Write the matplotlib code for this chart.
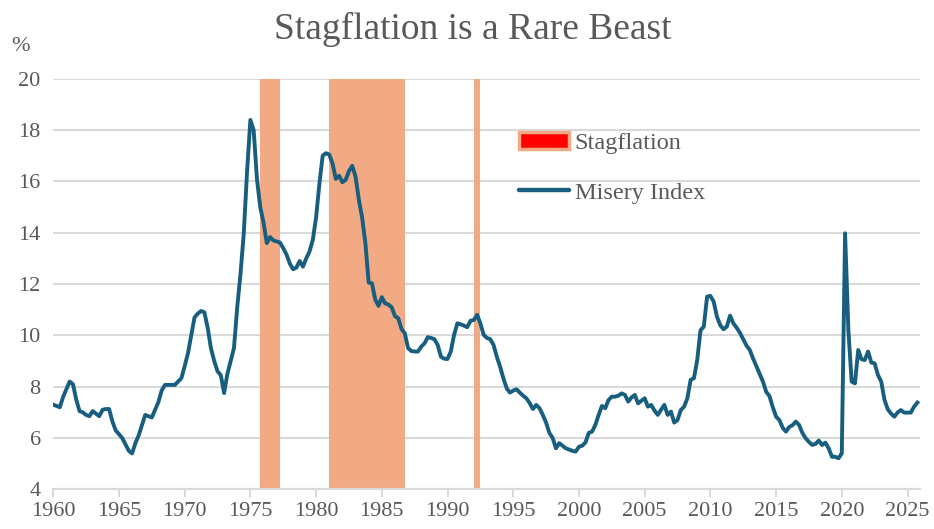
# coding: utf-8
import matplotlib
matplotlib.use("Agg")
import matplotlib.pyplot as plt
import numpy as np
from matplotlib.patches import Patch
from matplotlib.lines import Line2D

# quarterly misery index (inflation + unemployment), 1960Q1 .. 2025Q4
START_YEAR = 1960
misery = [
    7.3, 7.25, 7.2, 7.6,      # 1960
    7.9, 8.2, 8.1, 7.5,       # 1961
    7.05, 7.0, 6.9, 6.85,     # 1962
    7.05, 6.95, 6.85, 7.1,    # 1963
    7.13, 7.13, 6.65, 6.3,    # 1964
    6.15, 6.0, 5.75, 5.5,     # 1965
    5.4, 5.8, 6.1, 6.5,       # 1966
    6.9, 6.85, 6.8, 7.1,      # 1967
    7.4, 7.85, 8.07, 8.07,    # 1968
    8.07, 8.07, 8.2, 8.33,    # 1969
    8.8, 9.3, 10.0, 10.7,     # 1970
    10.85, 10.95, 10.9, 10.3, # 1971
    9.5, 9.0, 8.6, 8.45,      # 1972
    7.75, 8.5, 9.0, 9.5,      # 1973
    11.1, 12.4, 14.0, 16.4,   # 1974
    18.4, 18.0, 16.1, 15.0,   # 1975
    14.4, 13.6, 13.83, 13.7,  # 1976
    13.66, 13.62, 13.4, 13.15,# 1977
    12.8, 12.58, 12.64, 12.9, # 1978
    12.68, 13.0, 13.27, 13.72,# 1979
    14.6, 15.9, 17.0, 17.1,   # 1980
    17.05, 16.7, 16.1, 16.22, # 1981
    15.97, 16.06, 16.4, 16.61,# 1982
    16.19, 15.3, 14.6, 13.6,  # 1983
    12.06, 12.03, 11.4, 11.15,# 1984
    11.49, 11.25, 11.2, 11.1, # 1985
    10.75, 10.67, 10.25, 10.08,  # 1986
    9.5, 9.39, 9.37, 9.37,    # 1987
    9.56, 9.69, 9.93, 9.9,    # 1988
    9.85, 9.63, 9.17, 9.09,   # 1989
    9.08, 9.37, 10.02, 10.47, # 1990
    10.43, 10.38, 10.32, 10.57,  # 1991
    10.6, 10.8, 10.47, 10.02, # 1992
    9.9, 9.85, 9.63, 9.17,    # 1993
    8.78, 8.33, 7.94, 7.77,   # 1994
    7.85, 7.9, 7.77, 7.65,    # 1995
    7.55, 7.36, 7.13, 7.29,   # 1996
    7.16, 6.9, 6.6, 6.2,      # 1997
    6.0, 5.6, 5.8, 5.7,       # 1998
    5.6, 5.55, 5.5, 5.47,     # 1999
    5.66, 5.7, 5.83, 6.2,     # 2000
    6.25, 6.51, 6.9, 7.25,    # 2001
    7.16, 7.48, 7.61, 7.61,   # 2002
    7.65, 7.74, 7.68, 7.42,   # 2003
    7.58, 7.68, 7.35, 7.45,   # 2004
    7.55, 7.22, 7.29, 7.07,   # 2005
    6.9, 7.1, 7.29, 6.9,      # 2006
    7.03, 6.6, 6.7, 7.09,     # 2007
    7.22, 7.55, 8.27, 8.33,   # 2008
    9.04, 10.2, 10.34, 11.51, # 2009
    11.54, 11.32, 10.73, 10.4,# 2010
    10.24, 10.34, 10.77, 10.47,  # 2011
    10.3, 10.1, 9.85, 9.6,    # 2012
    9.43, 9.1, 8.8, 8.5,      # 2013
    8.2, 7.8, 7.63, 7.2,      # 2014
    6.83, 6.7, 6.4, 6.25,     # 2015
    6.43, 6.5, 6.64, 6.51,    # 2016
    6.2, 5.99, 5.85, 5.73,    # 2017
    5.77, 5.9, 5.73, 5.82,    # 2018
    5.6, 5.27, 5.27, 5.21,    # 2019
    5.4, 13.98, 10.2, 8.2,    # 2020
    8.13, 9.43, 9.07, 9.04,   # 2021
    9.37, 8.94, 8.91, 8.46,   # 2022
    8.2, 7.48, 7.12, 6.95,    # 2023
    6.83, 7.0, 7.09, 6.99,    # 2024
    6.99, 6.99, 7.22, 7.38,   # 2025
]

# stagflation periods (start, end) in fractional years
stag_start = [1975.75, 1981.0, 1992.0]
stag_end = [1977.25, 1986.75, 1992.5]

year_ticks = list(range(1960, 2026, 5))
y_ticks = list(range(4, 21, 2))

LINE_COL = "#175E7F"
BAND_COL = "#F2AA84"
TEXT_COL = "#595959"
GRID_COL = "#D9D9D9"

plt.rcParams["font.family"] = ["Liberation Serif", "DejaVu Serif"]

fig = plt.figure(figsize=(9.34, 5.29), dpi=100)
ax = fig.add_axes([0.057, 0.075, 0.928, 0.776])

x = START_YEAR + np.arange(len(misery)) / 4.0

ax.set_axisbelow(True)
ax.yaxis.grid(True, color=GRID_COL, linewidth=1.5)
for s, e in zip(stag_start, stag_end):
    ax.axvspan(s, e, ymin=0, ymax=1, color=BAND_COL, lw=0, zorder=1)
ax.plot(x, misery, color=LINE_COL, lw=2.8, zorder=3, solid_joinstyle="round")

ax.set_xlim(1960, 2025.95)
ax.set_ylim(4, 20)
ax.set_xticks(year_ticks)
ax.set_yticks(y_ticks)

for side in ["top", "right", "left"]:
    ax.spines[side].set_visible(False)
ax.spines["bottom"].set_color(GRID_COL)
ax.spines["bottom"].set_linewidth(1.5)
ax.tick_params(axis="x", colors=GRID_COL, length=6, width=1.5, labelcolor=TEXT_COL,
               labelsize=16, pad=3)
ax.tick_params(axis="y", length=0, labelcolor=TEXT_COL, labelsize=16, pad=9)

fig.text(0.506, 0.945, "Stagflation is a Rare Beast", ha="center", va="center",
         fontsize=27, color=TEXT_COL)
fig.text(0.022, 0.913, "%", ha="center", va="center", fontsize=16, color=TEXT_COL)

handles = [
    Patch(facecolor="#FF0000", edgecolor=BAND_COL, linewidth=2.5),
    Line2D([0], [0], color=LINE_COL, lw=3.2, solid_capstyle="round"),
]
leg = ax.legend(handles, ["Stagflation", "Misery Index"], loc="center left",
                bbox_to_anchor=(0.532, 0.683), bbox_transform=fig.transFigure,
                frameon=False, fontsize=17.5, handlelength=2.05, handletextpad=0.25,
                labelspacing=1.15)
for t in leg.get_texts():
    t.set_color(TEXT_COL)

fig.savefig("out.png", dpi=100)
